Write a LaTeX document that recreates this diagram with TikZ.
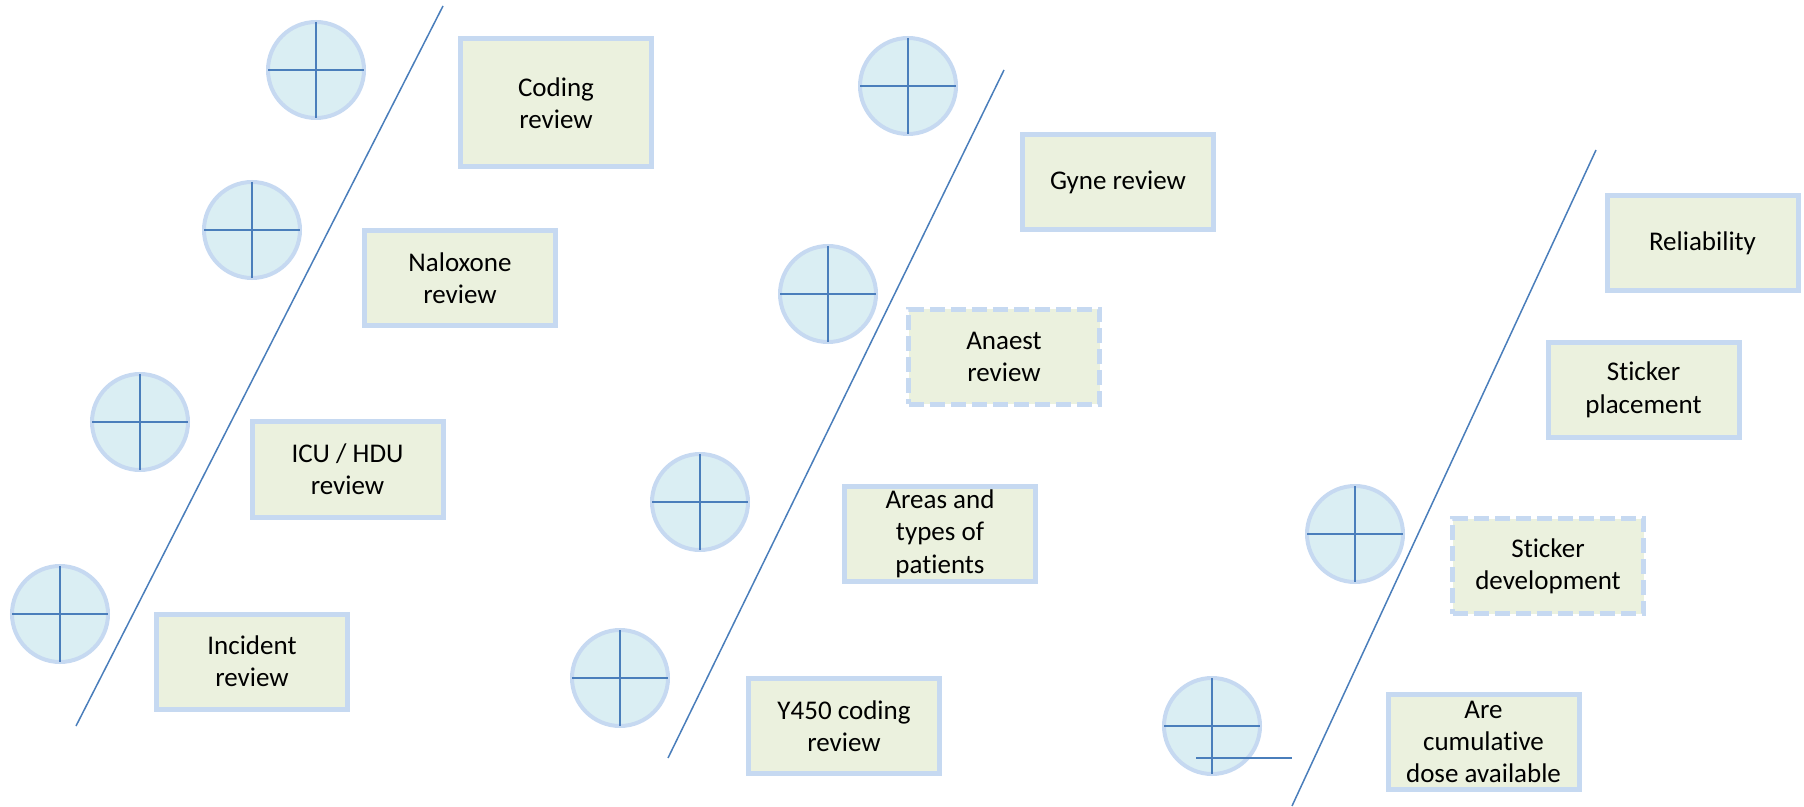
\documentclass[tikz,border=0pt]{standalone}
\usepackage{fontspec}
\setmainfont{Carlito}[Ligatures=NoCommon]
\definecolor{boxline}{HTML}{C6D9F1}
\definecolor{boxfill}{HTML}{EBF1DE}
\definecolor{dialfill}{HTML}{DAEEF3}
\definecolor{stroke}{HTML}{4A7EBB}

\begin{document}
\begin{tikzpicture}[x=0.5pt, y=-0.5pt,
    task/.style={draw=boxline, line width=2.5pt, fill=boxfill, inner sep=0pt,
        minimum width=95.5pt, minimum height=47.5pt, align=center,
        font=\fontsize{13.5}{16.2}\selectfont},
    plan/.style={task, dash pattern=on 7.5pt off 3pt},
    dial/.style={circle, draw=boxline, line width=2pt, fill=dialfill,
        minimum size=48pt, inner sep=0pt, outer sep=0pt},
    cross/.style={draw=stroke, line width=0.8pt},
    slope/.style={draw=stroke, line width=0.75pt}]
    \useasboundingbox (0,0) rectangle (1804,807);

    % Dividing lines
    \coordinate (top1) at (443,6);
    \coordinate (bot1) at (76,726);
    \coordinate (top2) at (1004,70);
    \coordinate (bot2) at (668,758);
    \coordinate (top3) at (1596,150);
    \coordinate (bot3) at (1292,806);
    \draw[slope] (top1) -- (bot1);
    \draw[slope] (top2) -- (bot2);
    \draw[slope] (top3) -- (bot3);

    % Circles
    \node[dial] (chk1) at (316,70) {};
    \node[dial] (chk2) at (252,230) {};
    \node[dial] (chk3) at (140,422) {};
    \node[dial] (chk4) at (60,614) {};
    \node[dial] (chk5) at (908,86) {};
    \node[dial] (chk6) at (828,294) {};
    \node[dial] (chk7) at (700,502) {};
    \node[dial] (chk8) at (620,678) {};
    \node[dial] (chk9) at (1355,534) {};
    \node[dial] (chk10) at (1212,726) {};
    \foreach \c in {chk1,chk2,chk3,chk4,chk5,chk6,chk7,chk8,chk9,chk10}
        \draw[cross] (\c.north) -- (\c.south) (\c.west) -- (\c.east);
    \coordinate (tickL) at (1196,758);
    \coordinate (tickR) at (1292,758);
    \draw[cross] (tickL) -- (tickR);

    % Review boxes
    \node[task, minimum height=64pt] (coding) at (556,103) {Coding\\review};
    \node[task] (naloxone) at (460,278) {Naloxone\\review};
    \node[task] (icu) at (347.5,469.5) {ICU / HDU\\review};
    \node[task] (incident) at (252,661.5) {Incident\\review};
    \node[task] (gyne) at (1118,182) {Gyne review};
    \node[plan] (anaest) at (1004,357) {Anaest\\review};
    \node[task] (areas) at (940,533.5) {Areas and\\types of\\patients};
    \node[task] (yfourfifty) at (844,726) {Y450 coding\\review};
    \node[task] (reliability) at (1702.5,243) {Reliability};
    \node[task] (placement) at (1643.5,390) {Sticker\\placement};
    \node[plan] (development) at (1548,566) {Sticker\\development};
    \node[task] (cumulative) at (1483.5,742) {Are\\cumulative\\dose available};
\end{tikzpicture}
\end{document}
